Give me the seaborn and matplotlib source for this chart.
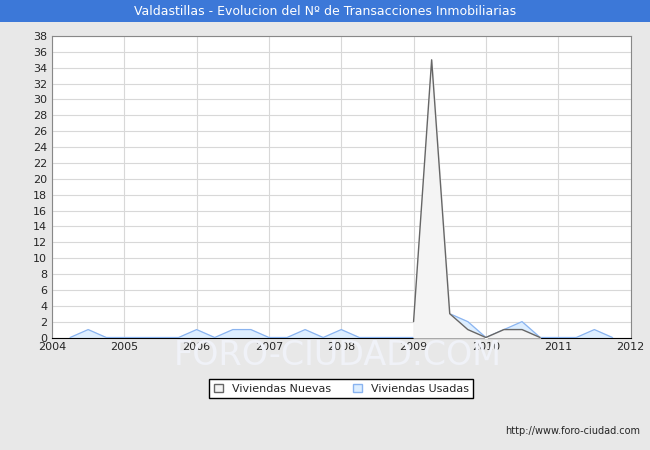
import numpy as np
import matplotlib
matplotlib.use("Agg")
import matplotlib.pyplot as plt
import seaborn as sns
from matplotlib.patches import Patch, Rectangle

sns.set_style("white")
plt.rcParams['font.family'] = ['Verdana', 'DejaVu Sans']

# quarterly, 2004.25 .. 2011.75
quarters = [2004.25 + 0.25 * i for i in range(31)]
usadas = [0, 1, 0, 0, 0, 0, 0, 1, 0, 1, 1, 0, 0, 1, 0, 1, 0, 0, 0, 0,
          0, 3, 2, 0, 1, 2, 0, 0, 0, 1, 0]
nuevas = [np.nan] * 19 + [2, 35, 3, 1, 0, 1, 1, 0] + [np.nan] * 4

fig = plt.figure(figsize=(6.5, 4.5), dpi=100)
fig.patch.set_facecolor('#e8e8e8')
fig.patches.append(Rectangle((0, 0.951), 1, 0.049, transform=fig.transFigure,
                             fc='#3c78d8', ec='none', zorder=-1))
fig.text(0.5, 0.975, "Valdastillas - Evolucion del Nº de Transacciones Inmobiliarias",
         ha='center', va='center', color='white', fontsize=9)
fig.text(0.52, 0.21, "FORO-CIUDAD.COM", fontsize=24, color='#f0f2f8', ha='center',
         va='center', zorder=0)

ax = fig.add_axes([0.08, 0.25, 0.89, 0.67])
ax.set_facecolor('white')

q = np.array(quarters)
u = np.array(usadas, dtype=float)
n = np.array(nuevas, dtype=float)
ax.fill_between(q, u, color='#ddeeff', zorder=2)
sns.lineplot(x=q, y=u, ax=ax, color='#8ab4f0', lw=0.9, zorder=3)
m = ~np.isnan(n)
ax.fill_between(q[m], n[m], color='#f4f4f4', zorder=4)
sns.lineplot(x=q[m], y=n[m], ax=ax, color='#666666', lw=1.0, zorder=5)

ax.set_xlim(2004, 2012)
ax.set_ylim(0, 38)
ax.set_xticks(range(2004, 2013))
ax.set_yticks(range(0, 39, 2))
ax.tick_params(labelsize=8, length=0)
ax.grid(True, color='#d8d8d8', lw=0.8)
for s in ax.spines.values():
    s.set_color('#888888')
ax.spines['bottom'].set_color('black')
ax.set_xlabel('')
ax.set_ylabel('')

ax.legend(handles=[Patch(fc='#f4f4f4', ec='#666666', label='Viviendas Nuevas'),
                   Patch(fc='#ddeeff', ec='#8ab4f0', label='Viviendas Usadas')],
          loc='upper center', bbox_to_anchor=(0.5, -0.12), ncol=2, fontsize=8,
          frameon=True, fancybox=False, edgecolor='black', handlelength=0.8,
          handleheight=0.8, framealpha=1)
fig.text(0.985, 0.035, "http://www.foro-ciudad.com", ha='right', fontsize=7)
fig.savefig("out.png", dpi=100, facecolor=fig.get_facecolor())
